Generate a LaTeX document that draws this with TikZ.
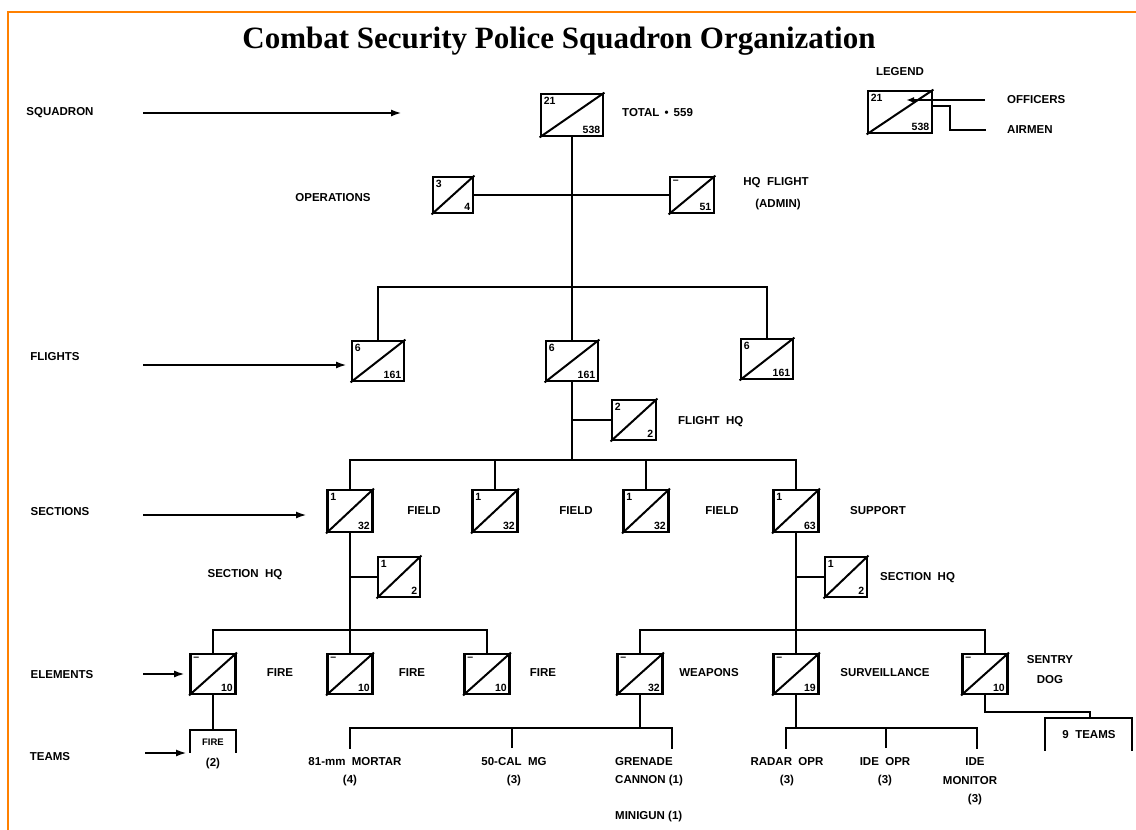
\documentclass[tikz,border=0pt]{standalone}
\usepackage{fontspec}
\setmainfont{Liberation Serif}
\newfontfamily\labfont{Liberation Sans}
\usetikzlibrary{arrows.meta}
\tikzset{
  conn/.style={line width=2.8pt, line cap=rect},
  tick/.style={line width=2pt},
  lvlarrow/.style={line width=2.2pt, -{Latex[length=11pt,width=7pt]}},
  ubox/.style={draw, line width=2.8pt, rectangle, inner sep=0pt},
  diag/.style={line width=2pt},
  num/.style={font=\labfont\bfseries\fontsize{10.5}{11}\selectfont, inner sep=0pt},
  lab/.style={font=\labfont\bfseries\fontsize{11.5}{13}\selectfont, inner sep=0pt},
  llab/.style={lab, anchor=west},
  frame/.style={draw=orange, line width=2pt}
}
\newcommand{\unitbox}[6]{%
  \node[ubox, minimum width=#3, minimum height=#4] (#1) at #2 {};
  \draw[diag] (#1.south west) -- (#1.north east);
  \node[num, anchor=north west] (#1t) at ([shift={(4pt,-4pt)}]#1.north west) {#5};
  \node[num, anchor=south east] (#1b) at ([shift={(-4pt,4pt)}]#1.south east) {#6};
}
\begin{document}
\begin{tikzpicture}[x=1pt, y=-1pt]
\useasboundingbox (0,0) rectangle (1136,830);
\fill[white] (0,0) rectangle (1136,830);
\draw[frame] (8,830) -- (8,12) -- (1136,12);

% title
\node[font=\bfseries\fontsize{31}{34}\selectfont, inner sep=0pt] (title) at (559,41) {Combat Security Police Squadron Organization};

% level labels and arrows
\node[lab] (lsq) at (60,113) {SQUADRON};
\coordinate (asq1) at (143,113); \coordinate (asq2) at (402,113);
\draw[lvlarrow] (asq1) -- (asq2);
\node[lab] (lfl) at (55,357) {FLIGHTS};
\coordinate (afl1) at (143,365); \coordinate (afl2) at (347,365);
\draw[lvlarrow] (afl1) -- (afl2);
\node[lab] (lse) at (60,512) {SECTIONS};
\coordinate (ase1) at (143,515); \coordinate (ase2) at (307,515);
\draw[lvlarrow] (ase1) -- (ase2);
\node[lab] (lel) at (62,675) {ELEMENTS};
\coordinate (ael1) at (143,674);
\node[lab] (lte) at (50,757) {TEAMS};
\coordinate (ate1) at (145,753); \coordinate (ate2) at (187,753);

% squadron
\unitbox{sq}{(572,115)}{62pt}{42pt}{21}{538}
\node[llab] (total) at (622,113) {TOTAL \,\textbullet\, 559};

% legend
\node[lab] (legend) at (900,72) {LEGEND};
\unitbox{lg}{(900,112)}{64pt}{42pt}{21}{538}
\coordinate (lo1) at (985,100); \coordinate (lo2) at (906,100);
\draw[conn, line cap=butt, -{Latex[length=8pt,width=6pt]}] (lo1) -- (lo2);
\coordinate (la1) at (932,106); \coordinate (la2) at (950,106); \coordinate (la3) at (950,130); \coordinate (la4) at (985,130);
\draw[conn] (la1) -- (la2) -- (la3) -- (la4);
\node[llab] (offi) at (1007,100) {OFFICERS};
\node[llab] (airm) at (1007,130) {AIRMEN};

% operations / HQ flight
\unitbox{ops}{(453,195)}{40pt}{36pt}{3}{4}
\unitbox{hqf}{(692,195)}{44pt}{36pt}{\textendash}{51}
\node[lab] (lops) at (333,198) {OPERATIONS};
\node[lab] (lhqf1) at (776,183) {HQ \ FLIGHT};
\node[lab] (lhqf2) at (778,205) {(ADMIN)};
\draw[conn] (ops.east) -- (hqf.west);

% flights
\coordinate (fbar) at (572,287);
\draw[conn] (sq.south) -- (fbar);
\unitbox{f1}{(378,361)}{52pt}{40pt}{6}{161}
\unitbox{f2}{(572,361)}{52pt}{40pt}{6}{161}
\unitbox{f3}{(767,359)}{52pt}{40pt}{6}{161}
\draw[conn] (f1.north) |- (fbar) -| (f3.north);
\draw[conn] (fbar) -- (f2.north);

% flight HQ
\coordinate (sbar) at (572,460);
\coordinate (fhqj) at (572,420);
\draw[conn] (f2.south) -- (sbar);
\unitbox{fhq}{(634,420)}{44pt}{40pt}{2}{2}
\draw[conn] (fhqj) -- (fhq.west);
\node[llab] (lfhq) at (678,422) {FLIGHT \ HQ};

% sections
\unitbox{s1}{(350,511)}{45pt}{42pt}{1}{32}
\unitbox{s2}{(495,511)}{45pt}{42pt}{1}{32}
\unitbox{s3}{(646,511)}{45pt}{42pt}{1}{32}
\unitbox{s4}{(796,511)}{45pt}{42pt}{1}{63}
\draw[conn] (s1.north) |- (sbar) -| (s4.north);
\draw[conn] (s2.north) |- (sbar);
\draw[conn] (s3.north) |- (sbar);
\node[lab] (fd1) at (424,511) {FIELD};
\node[lab] (fd2) at (576,511) {FIELD};
\node[lab] (fd3) at (722,511) {FIELD};
\node[lab] (sup) at (878,511) {SUPPORT};

% section HQs
\coordinate (lbar) at (350,630);
\coordinate (rbar) at (796,630);
\coordinate (sh1j) at (350,577);
\coordinate (sh2j) at (796,577);
\draw[conn] (s1.south) -- (lbar);
\draw[conn] (s4.south) -- (rbar);
\unitbox{shq1}{(399,577)}{42pt}{40pt}{1}{2}
\unitbox{shq2}{(846,577)}{42pt}{40pt}{1}{2}
\draw[conn] (sh1j) -- (shq1.west);
\draw[conn] (sh2j) -- (shq2.west);
\node[lab] (lsh1) at (245,575) {SECTION \ HQ};
\node[llab] (lsh2) at (880,578) {SECTION \ HQ};

% elements
\unitbox{e1}{(213,674)}{45pt}{40pt}{\textendash}{10}
\unitbox{e2}{(350,674)}{45pt}{40pt}{\textendash}{10}
\unitbox{e3}{(487,674)}{45pt}{40pt}{\textendash}{10}
\unitbox{e4}{(640,674)}{45pt}{40pt}{\textendash}{32}
\unitbox{e5}{(796,674)}{45pt}{40pt}{\textendash}{19}
\unitbox{e6}{(985,674)}{45pt}{40pt}{\textendash}{10}
\draw[conn] (e1.north) |- (lbar) -| (e3.north);
\draw[conn] (lbar) -- (e2.north);
\draw[conn] (e4.north) |- (rbar) -| (e6.north);
\draw[conn] (rbar) -- (e5.north);
\draw[lvlarrow, shorten >=4pt] (ael1) -- (ael1 -| e1.west);
\node[lab] (fi1) at (280,673) {FIRE};
\node[lab] (fi2) at (412,673) {FIRE};
\node[lab] (fi3) at (543,673) {FIRE};
\node[lab] (wea) at (709,673) {WEAPONS};
\node[lab] (sur) at (885,673) {SURVEILLANCE};
\node[lab] (sen1) at (1050,660) {SENTRY};
\node[lab] (sen2) at (1050,680) {DOG};

% fire team
\coordinate (ftj) at (213,730);
\draw[conn] (e1.south) -- (ftj);
\coordinate (ftl) at (190,752); \coordinate (ftr) at (236,752);
\draw[conn] (ftl) |- (ftj) -| (ftr);
\node[lab, font=\labfont\bfseries\fontsize{9.5}{10}\selectfont] (ft1) at (213,742) {FIRE};
\node[lab] (ft2) at (213,764) {(2)};
\draw[lvlarrow] (ate1) -- (ate2);

% weapons teams
\coordinate (wbar) at (640,728);
\draw[conn] (e4.south) -- (wbar);
\coordinate (w1) at (350,748); \coordinate (w2) at (512,748); \coordinate (w3) at (672,748);
\draw[conn] (w1) |- (wbar) -| (w3);
\draw[tick] (w2) -- (w2 |- wbar);
\node[lab] (t81) at (355,762) {81-mm \ MORTAR};
\node[lab] (t81n) at (350,781) {(4)};
\node[lab] (t50) at (514,762) {50-CAL \ MG};
\node[lab] (t50n) at (514,781) {(3)};
\node[llab] (tgr1) at (615,762) {GRENADE};
\node[llab] (tgr2) at (615,781) {CANNON (1)};
\node[llab] (tmg) at (615,817) {MINIGUN (1)};

% surveillance teams
\coordinate (vbar) at (796,728);
\draw[conn] (e5.south) -- (vbar);
\coordinate (v1) at (786,748); \coordinate (v2) at (886,748); \coordinate (v3) at (977,748);
\draw[conn] (v1) |- (vbar) -| (v3);
\draw[tick] (v2) -- (v2 |- vbar);
\node[lab] (tra) at (787,762) {RADAR \ OPR};
\node[lab] (tran) at (787,781) {(3)};
\node[lab] (tio) at (885,762) {IDE \ OPR};
\node[lab] (tion) at (885,781) {(3)};
\node[lab] (tim1) at (975,762) {IDE};
\node[lab] (tim2) at (970,781) {MONITOR};
\node[lab] (tim3) at (975,800) {(3)};

% sentry dog teams
\coordinate (dj) at (1090,712);
\coordinate (dt) at (1090,718);
\draw[conn] (e6.south) |- (dj) -- (dt);
\coordinate (dl) at (1045,750); \coordinate (dr) at (1132,750);
\draw[conn] (dl) |- (dt) -| (dr);
\node[lab] (dteams) at (1089,735) {9 \ TEAMS};
\end{tikzpicture}
\end{document}
